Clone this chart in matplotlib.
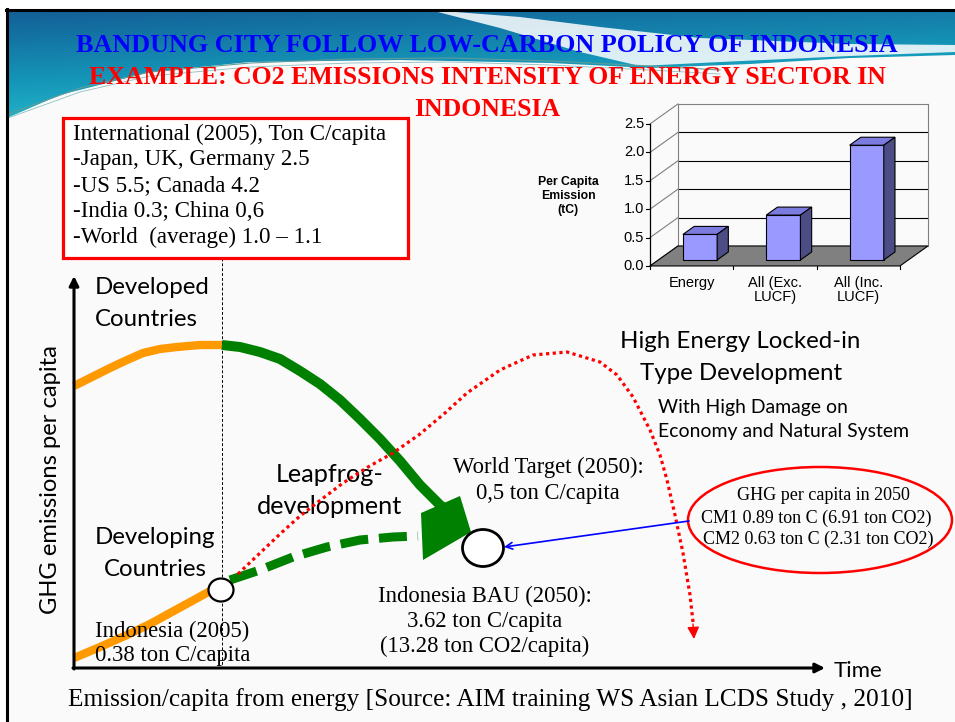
import numpy as np
import matplotlib.pyplot as plt
from matplotlib.patches import Polygon, Ellipse, Rectangle
from matplotlib.colors import LinearSegmentedColormap

# --- inset bar chart: per capita emission (tC) ---
bar_labels = ['Energy', 'All (Exc.\nLUCF)', 'All (Inc.\nLUCF)']
bar_values = [0.45, 0.79, 2.02]
bar_ticks = [0.0, 0.5, 1.0, 1.5, 2.0, 2.5]

# --- schematic curves of the slide (slide pixel coords, y down) ---
developed_x = [74, 92, 110, 127, 143, 160, 177, 200, 222]
developed_y = [386, 377, 368, 360, 353, 349, 347, 345, 345]
decline_x = [222, 240, 260, 280, 300, 320, 340, 360, 380, 400, 420, 440, 450]
decline_y = [345, 347, 352, 359, 371, 384, 400, 419, 439, 461, 485, 505, 512]
developing_x = [74, 100, 127, 150, 170, 192, 212]
developing_y = [658, 647, 635, 624, 613, 601, 590]
leapfrog_x = [230, 260, 293, 327, 360, 393, 418]
leapfrog_y = [580, 570, 557, 547, 540, 537, 536]
bau_x = [238, 260, 280, 300, 318, 343, 368, 393, 420, 445, 467, 500, 533, 567,
         600, 617, 633, 650, 660, 667, 675, 683, 690, 693]
bau_y = [574, 553, 534, 516, 502, 483, 467, 453, 434, 413, 393, 370, 355, 352,
         362, 375, 397, 430, 455, 480, 515, 553, 595, 622]
head_x = [421, 460, 471, 423]
head_y = [513, 496, 532, 560]

SANS = 'Lato'
SERIF = 'Liberation Serif'

fig = plt.figure(figsize=(9.55, 7.22), dpi=100)
ax = fig.add_axes([0, 0, 1, 1])
ax.set_xlim(0, 955)
ax.set_ylim(722, 0)
ax.axis('off')
renderer = fig.canvas.get_renderer()


def fit(t, width, vertical=False):
    bb = t.get_window_extent(renderer)
    cur = bb.height if vertical else bb.width
    t.set_fontsize(t.get_fontsize() * width / cur)
    return t.get_fontsize()


# slide background + frame
ax.add_patch(Rectangle((7, 10), 948, 712, facecolor='#fafafa', edgecolor='none', zorder=0))

# teal header swoosh
band_x = [7, 60, 150, 250, 400, 550, 650, 750, 850, 955, 955, 7]
band_y = [118, 95, 72, 62, 60, 63, 68, 64, 58, 55, 10, 10]
band = Polygon(np.column_stack([band_x, band_y]), closed=True, facecolor='none', edgecolor='none')
ax.add_patch(band)
gx, gy = np.meshgrid(np.linspace(0, 1, 200), np.linspace(0, 1, 60))
grad = 0.75 * gy + 0.25 * gx
cmap = LinearSegmentedColormap.from_list('teal', ['#135f97', '#1596b8', '#2cc9d6'])
im = ax.imshow(grad, extent=(7, 955, 118, 10), cmap=cmap, aspect='auto', zorder=0.5)
im.set_clip_path(band)
swoosh = [(430, 10), (520, 17), (600, 27), (700, 38), (850, 44), (955, 45),
          (955, 52), (850, 56), (720, 62), (640, 66), (580, 52), (500, 28)]
ax.add_patch(Polygon(swoosh, closed=True, facecolor='white', edgecolor='none', alpha=0.85, zorder=0.6))
wave_x = np.array([8, 80, 150, 250, 350, 450, 550, 650, 720])
wave_y = np.array([114, 88, 72, 63, 59, 58, 61, 66, 70])
ax.plot(wave_x, wave_y, color='#5f9c9a', lw=0.8, zorder=0.7)
ax.plot(wave_x, wave_y + 4, color='#8fbfbf', lw=0.6, zorder=0.7)

ax.plot([7, 7], [9, 722], color='black', lw=2.2, zorder=10)
ax.plot([6, 955], [10, 10], color='black', lw=2.2, zorder=10)

# titles
t = ax.text(487, 46, 'BANDUNG CITY FOLLOW LOW-CARBON POLICY OF INDONESIA', color='#0000ff',
            family=SERIF, weight='bold', fontsize=20, ha='center', va='center', zorder=5)
fit(t, 821)
t = ax.text(487, 78, 'EXAMPLE: CO2 EMISSIONS INTENSITY OF ENERGY SECTOR IN', color='red',
            family=SERIF, weight='bold', fontsize=20, ha='center', va='center', zorder=5)
fs_title = fit(t, 795)
ax.text(487, 110, 'INDONESIA', color='red', family=SERIF, weight='bold', fontsize=fs_title,
        ha='center', va='center', zorder=5)

# red info box
ax.add_patch(Rectangle((63, 118), 345, 140, facecolor='white', edgecolor='red', lw=2.3, zorder=3))
box_lines = ['International (2005), Ton C/capita', '-Japan, UK, Germany 2.5', '-US 5.5; Canada 4.2',
             '-India 0.3; China 0,6', '-World  (average) 1.0 \u2013 1.1']
t = ax.text(73, 134, box_lines[0], family=SERIF, fontsize=14, va='center', zorder=4)
fs_box = fit(t, 314)
for i, s in enumerate(box_lines[1:]):
    ax.text(73, 160 + 25.8 * i, s, family=SERIF, fontsize=fs_box, va='center', zorder=4)

# guide line at 2005
ax.plot([222, 222], [258, 668], color='black', lw=0.7, ls=(0, (3, 2)), zorder=2)

# axes of the schematic
ax.annotate('', xy=(74, 276), xytext=(74, 669),
            arrowprops=dict(arrowstyle='-|>', lw=2.2, color='black', mutation_scale=14,
                            shrinkA=0, shrinkB=0), zorder=6)
ax.annotate('', xy=(825, 668), xytext=(73, 668),
            arrowprops=dict(arrowstyle='-|>', lw=2.2, color='black', mutation_scale=14,
                            shrinkA=0, shrinkB=0), zorder=6)
ax.text(834, 671, 'Time', family=SANS, fontsize=16, va='center')
t = ax.text(50, 480, 'GHG emissions per capita', family=SANS, fontsize=16, rotation=90,
            ha='center', va='center')
fit(t, 270, vertical=True)

# curves
ax.plot(developed_x, developed_y, color='#ff9900', lw=6, solid_capstyle='butt',
        solid_joinstyle='round', zorder=4)
ax.plot(developing_x, developing_y, color='#ff9900', lw=6, solid_capstyle='butt', zorder=4)
ax.plot(decline_x, decline_y, color='#008000', lw=7.2, solid_capstyle='butt',
        solid_joinstyle='round', zorder=4)
ax.plot(leapfrog_x, leapfrog_y, color='#008000', lw=6.5, ls=(0, (3.1, 1.2)),
        dash_capstyle='butt', zorder=4)
ax.add_patch(Polygon(np.column_stack([head_x, head_y]), closed=True, facecolor='#008000',
                     edgecolor='none', zorder=4))
ax.plot(bau_x, bau_y, color='red', lw=2.3, ls=(0, (1, 1.1)), zorder=5)
ax.annotate('', xy=(694, 639), xytext=(693, 624),
            arrowprops=dict(arrowstyle='-|>', color='red', lw=1, mutation_scale=18,
                            shrinkA=0, shrinkB=0), zorder=5)

ax.add_patch(Ellipse((221, 590), 25, 23, facecolor='white', edgecolor='black', lw=1.6, zorder=6))
ax.add_patch(Ellipse((483, 548), 41, 37, facecolor='white', edgecolor='black', lw=2, zorder=6))

# labels of the schematic
t = ax.text(95, 319, 'Countries', family=SANS, fontsize=16, va='center')
fs_big = fit(t, 103)
ax.text(95, 287, 'Developed', family=SANS, fontsize=fs_big, va='center')
ax.text(155, 538, 'Developing', family=SANS, fontsize=fs_big, ha='center', va='center')
ax.text(155, 570, 'Countries', family=SANS, fontsize=fs_big, ha='center', va='center')
ax.text(330, 475, 'Leapfrog-', family=SANS, fontsize=fs_big * 1.05, ha='center', va='center')
ax.text(329, 507, 'development', family=SANS, fontsize=fs_big * 1.05, ha='center', va='center')
ax.text(740, 341, 'High Energy Locked-in', family=SANS, fontsize=fs_big, ha='center', va='center')
ax.text(741, 373, 'Type Development', family=SANS, fontsize=fs_big, ha='center', va='center')
t = ax.text(658, 431, 'Economy and Natural System', family=SANS, fontsize=13, va='center')
fs_mid = fit(t, 250)
ax.text(658, 407, 'With High Damage on', family=SANS, fontsize=fs_mid, va='center')

t = ax.text(548, 467, 'World Target (2050):', family=SERIF, fontsize=13, ha='center', va='center')
fs_note = fit(t, 190)
ax.text(548, 493, '0,5 ton C/capita', family=SERIF, fontsize=fs_note, ha='center', va='center')
ax.text(485, 596, 'Indonesia BAU (2050):', family=SERIF, fontsize=fs_note, ha='center', va='center')
ax.text(485, 622, '3.62 ton C/capita', family=SERIF, fontsize=fs_note, ha='center', va='center')
ax.text(485, 646, '(13.28 ton CO2/capita)', family=SERIF, fontsize=fs_note, ha='center', va='center')
ax.text(95, 631, 'Indonesia (2005)', family=SERIF, fontsize=fs_note, va='center', zorder=7)
ax.text(95, 656, '0.38 ton C/capita', family=SERIF, fontsize=fs_note, va='center', zorder=7)

# CM ellipse + blue pointer
ax.add_patch(Ellipse((820, 520), 264, 106, facecolor='none', edgecolor='red', lw=1.8, zorder=6))
ax.annotate('', xy=(504, 547), xytext=(689, 521),
            arrowprops=dict(arrowstyle='->', color='blue', lw=1.2, mutation_scale=12,
                            shrinkA=0, shrinkB=0), zorder=6)
t = ax.text(816, 518, 'CM1 0.89 ton C (6.91 ton CO2)', family=SERIF, fontsize=11,
            ha='center', va='center')
fs_cm = fit(t, 232)
ax.text(823, 495, 'GHG per capita in 2050', family=SERIF, fontsize=fs_cm, ha='center', va='center')
ax.text(818, 539, 'CM2 0.63 ton C (2.31 ton CO2)', family=SERIF, fontsize=fs_cm, ha='center', va='center')

# footer
t = ax.text(490, 700, 'Emission/capita from energy [Source: AIM training WS Asian LCDS Study , 2010]',
            family=SERIF, fontsize=16, ha='center', va='center')
fit(t, 845)

# --- inset 3D-look bar chart ---
ax.text(568, 196, 'Per Capita\nEmission\n(tC)', family='Liberation Sans', weight='bold',
        fontsize=8.8, ha='center', va='center', linespacing=1.2)
bx = fig.add_axes([600 / 955, 1 - 283 / 722, 333.3 / 955, 184.6 / 722])
bx.set_xlim(-0.6, 3.4)
bx.set_ylim(-0.3, 2.95)
bx.axis('off')
DX, DY = 0.336, 0.352          # depth of floor
ncat = len(bar_values)
top = bar_ticks[-1]
bx.add_patch(Polygon([(0, 0), (ncat, 0), (ncat + DX, DY), (DX, DY)], closed=True,
                     facecolor='#808080', edgecolor='black', lw=0.8, zorder=1))
for v in bar_ticks[1:]:
    col = '#808080' if v == top else 'black'
    bx.plot([DX, ncat + DX], [v + DY, v + DY], color=col, lw=0.8, zorder=0.5)
for v in bar_ticks:
    bx.plot([0, DX], [v, v + DY], color='#808080', lw=0.8, zorder=0.5)
    bx.plot([-0.05, 0], [v, v], color='black', lw=0.8)
    bx.text(-0.07, v, '%.1f' % v, family='Liberation Sans', fontsize=10.5, ha='right', va='center')
bx.plot([DX, DX], [DY, top + DY], color='#808080', lw=0.8, zorder=0.5)
bx.plot([ncat + DX, ncat + DX], [DY, top + DY], color='#808080', lw=0.8, zorder=0.5)
bx.plot([0, 0], [0, top], color='black', lw=0.9, zorder=2)
for i in range(ncat + 1):
    bx.plot([i, i], [0, -0.06], color='black', lw=0.8)

d0, bd, bw = 0.3, 0.4, 0.41
centers = np.arange(ncat) + 0.5 + d0 * DX
base = d0 * DY
bx.bar(centers, bar_values, width=bw, bottom=base, color='#9999ff', edgecolor='black',
       lw=0.8, zorder=3)
for c, v in zip(centers, bar_values):
    x0, x1, y1 = c - bw / 2, c + bw / 2, base + v
    ox, oy = bd * DX, bd * DY
    bx.add_patch(Polygon([(x0, y1), (x1, y1), (x1 + ox, y1 + oy), (x0 + ox, y1 + oy)], closed=True,
                         facecolor='#7b7be0', edgecolor='black', lw=0.8, zorder=3))
    bx.add_patch(Polygon([(x1, base), (x1 + ox, base + oy), (x1 + ox, y1 + oy), (x1, y1)], closed=True,
                         facecolor='#4d4d85', edgecolor='black', lw=0.8, zorder=3))
for i, lab in enumerate(bar_labels):
    bx.text(i + 0.5, -0.17, lab, family='Liberation Sans', fontsize=10.5, ha='center', va='top',
            linespacing=1.05)

fig.savefig('out.png', dpi=100)
